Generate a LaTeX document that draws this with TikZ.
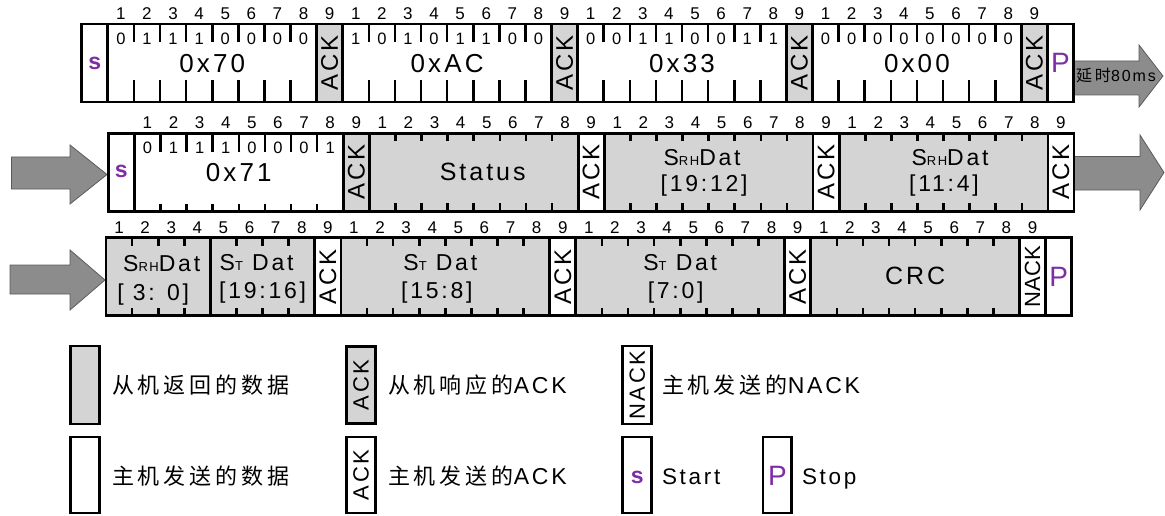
\documentclass[tikz,border=0pt]{standalone}
\usepackage{fontspec}
\setmainfont{Liberation Sans}
\newfontfamily\sps[LetterSpace=12]{Liberation Sans}
\newfontfamily\cjks[LetterSpace=18]{Noto Sans CJK SC}
\definecolor{cellgray}{RGB}{212,212,212}
\definecolor{arrowfill}{RGB}{140,140,140}
\definecolor{arrowline}{RGB}{90,90,90}
\definecolor{sigpurple}{RGB}{125,45,165}
\newcommand\SRHtxt{S{\fontsize{13}{14}\selectfont RH}Dat}
\newcommand\STtxt{S{\fontsize{13}{14}\selectfont T} Dat}
\newcommand\tickset[4]{%
  \foreach \k in {1,...,#2}{%
    \draw[tickline] ([xshift=\k*26.1pt]#1.north west) -- ++(0pt,-#3pt);
    \draw[tickline] ([xshift=\k*26.1pt]#1.south west) -- ++(0pt,#4pt);}}
\newcommand\bitvals[3]{%
  \foreach \v [count=\k] in {#3}
    \node[bitval] (#1v\k) at ([xshift={(\k-0.5)*26.1pt},yshift=-#2pt]#1.north west) {\v};}
\begin{document}
\begin{tikzpicture}[x=1pt,y=-1pt,
  cell/.style={draw=black, line width=2.8pt, minimum height=78pt, inner sep=0pt, outer sep=0pt, anchor=north west},
  gcell/.style={cell, fill=cellgray},
  wcell/.style={cell, fill=white},
  unit/.style={minimum width=26.1pt},
  byte/.style={minimum width=208.8pt},
  nib/.style={minimum width=104.4pt},
  tickline/.style={line width=2.6pt},
  txt/.style={inner sep=0pt, outer sep=0pt, anchor=base},
  bitnum/.style={txt, font=\fontsize{17}{20}\selectfont},
  bitval/.style={txt, font=\fontsize{16.5}{19}\selectfont},
  hexlbl/.style={txt, font=\sps\fontsize{26}{30}\selectfont},
  datlbl/.style={txt, font=\sps\fontsize{23}{27}\selectfont},
  biglbl/.style={txt, font=\sps\fontsize{25}{29}\selectfont},
  acklbl/.style={inner sep=0pt, rotate=90, font=\sps\fontsize{24}{26}\selectfont},
  nacklbl/.style={inner sep=0pt, rotate=90, font=\fontsize{22}{26}\selectfont},
  slbl/.style={txt, font=\bfseries\fontsize{23}{26}\selectfont, text=sigpurple},
  plbl/.style={txt, font=\fontsize{28}{30}\selectfont, text=sigpurple},
  legtxt/.style={inner sep=0pt, outer sep=0pt, anchor=base west},
  blockarrow/.style={fill=arrowfill, draw=arrowline, line width=0.8pt, line join=miter}
]
\useasboundingbox (0,0) rectangle (1165,516);

% ---------- block arrows ----------
\path[blockarrow] (1073,61) -- (1139,61) -- (1139,45) -- (1163,76) -- (1139,107) -- (1139,95) -- (1073,95) -- cycle;
\path[blockarrow] (1074,156.5) -- (1140,156.5) -- (1140,135) -- (1164,172.5) -- (1140,210) -- (1140,190) -- (1074,190) -- cycle;
\path[blockarrow] (11.5,157) -- (70,157) -- (70,145) -- (107,174.5) -- (70,204) -- (70,189) -- (11.5,189) -- cycle;
\path[blockarrow] (10,265) -- (70,265) -- (70,250) -- (105,280) -- (70,310) -- (70,294) -- (10,294) -- cycle;
\node[txt, font=\fontsize{16}{18}\selectfont] (delay) at (1116,82) {{\cjks 延时}{\sps 80ms}};

% ---------- row 1 ----------
\node[wcell, unit] (s1) at (81.7,24) {};
\node[wcell, byte] (b1) at (s1.north east) {};
\node[gcell, unit] (a1) at (b1.north east) {};
\node[wcell, byte] (b2) at (a1.north east) {};
\node[gcell, unit] (a2) at (b2.north east) {};
\node[wcell, byte] (b3) at (a2.north east) {};
\node[gcell, unit] (a3) at (b3.north east) {};
\node[wcell, byte] (b4) at (a3.north east) {};
\node[gcell, unit] (a4) at (b4.north east) {};
\node[wcell, unit] (p1) at (a4.north east) {};
\tickset{b1}{7}{18}{22}
\tickset{b2}{7}{18}{22}
\tickset{b3}{7}{18}{22}
\tickset{b4}{7}{18}{22}
\bitvals{b1}{20.5}{0,1,1,1,0,0,0,0}
\bitvals{b2}{20.5}{1,0,1,0,1,1,0,0}
\bitvals{b3}{20.5}{0,0,1,1,0,0,1,1}
\bitvals{b4}{20.5}{0,0,0,0,0,0,0,0}
\node[slbl] (s1t) at ([yshift=-6.5pt]s1.center) {s};
\node[hexlbl] (b1t) at ([yshift=-48.5pt]b1.north) {0x70};
\node[hexlbl] (b2t) at ([yshift=-48.5pt]b2.north) {0xAC};
\node[hexlbl] (b3t) at ([yshift=-48.5pt]b3.north) {0x33};
\node[hexlbl] (b4t) at ([yshift=-48.5pt]b4.north) {0x00};
\node[acklbl] (a1t) at (a1.center) {ACK};
\node[acklbl] (a2t) at (a2.center) {ACK};
\node[acklbl] (a3t) at (a3.center) {ACK};
\node[acklbl] (a4t) at (a4.center) {ACK};
\node[plbl] (p1t) at ([yshift=-9.5pt]p1.center) {P};
\foreach \k in {1,...,36}{\pgfmathtruncatemacro\lab{mod(\k-1,9)+1}%
  \node[bitnum] (ra\k) at ([xshift={(\k+0.5)*26.1pt},yshift=4.5pt]s1.north west) {\lab};}

% ---------- row 2 ----------
\node[wcell, unit] (s2) at (108.3,133.3) {};
\node[wcell, byte] (c1) at (s2.north east) {};
\node[gcell, unit] (d1) at (c1.north east) {};
\node[gcell, byte] (c2) at (d1.north east) {};
\node[wcell, unit] (d2) at (c2.north east) {};
\node[gcell, byte] (c3) at (d2.north east) {};
\node[wcell, unit] (d3) at (c3.north east) {};
\node[gcell, byte] (c4) at (d3.north east) {};
\node[wcell, unit] (d4) at (c4.north east) {};
\tickset{c1}{7}{18.5}{7}
\tickset{c2}{7}{8}{8}
\tickset{c3}{7}{8}{8}
\tickset{c4}{7}{8}{8}
\bitvals{c1}{20.5}{0,1,1,1,0,0,0,1}
\node[slbl] (s2t) at ([yshift=-5pt]s2.center) {s};
\node[hexlbl] (c1t) at ([yshift=-48.5pt]c1.north) {0x71};
\node[biglbl] (c2t) at ([xshift=9pt,yshift=-46.7pt]c2.north) {Status};
\node[datlbl] (c3t) at ([xshift=-6.5pt,yshift=-32pt]c3.north) {\SRHtxt};
\node[datlbl] (c3u) at ([xshift=-4.5pt,yshift=-58.7pt]c3.north) {[19:12]};
\node[datlbl] (c4t) at ([xshift=6.5pt,yshift=-32pt]c4.north) {\SRHtxt};
\node[datlbl] (c4u) at ([xshift=0.5pt,yshift=-58.7pt]c4.north) {[11:4]};
\node[acklbl] (d1t) at (d1.center) {ACK};
\node[acklbl] (d2t) at (d2.center) {ACK};
\node[acklbl] (d3t) at (d3.center) {ACK};
\node[acklbl] (d4t) at (d4.center) {ACK};
\foreach \k in {1,...,36}{\pgfmathtruncatemacro\lab{mod(\k-1,9)+1}%
  \node[bitnum] (rb\k) at ([xshift={(\k+0.5)*26.1pt},yshift=4.5pt]s2.north west) {\lab};}

% ---------- row 3 ----------
\node[gcell, nib] (e1) at (106,237.7) {};
\node[gcell, nib] (e2) at (e1.north east) {};
\node[wcell, unit] (f1) at (e2.north east) {};
\node[gcell, byte] (e3) at (f1.north east) {};
\node[wcell, unit] (f2) at (e3.north east) {};
\node[gcell, byte] (e4) at (f2.north east) {};
\node[wcell, unit] (f3) at (e4.north east) {};
\node[gcell, byte] (e5) at (f3.north east) {};
\node[wcell, unit] (f4) at (e5.north east) {};
\node[wcell, unit] (p3) at (f4.north east) {};
\tickset{e1}{3}{8}{8}
\tickset{e2}{3}{8}{8}
\tickset{e3}{7}{8}{8}
\tickset{e4}{7}{8}{8}
\tickset{e5}{7}{8}{8}
\node[datlbl] (e1t) at ([xshift=3.5pt,yshift=-34pt]e1.north) {\SRHtxt};
\node[datlbl] (e1u) at ([xshift=-5pt,yshift=-62.3pt]e1.north) {[ 3: 0]};
\node[datlbl] (e2t) at ([xshift=-6pt,yshift=-32.5pt]e2.north) {\STtxt};
\node[datlbl] (e2u) at ([xshift=0pt,yshift=-61pt]e2.north) {[19:16]};
\node[datlbl] (e3t) at ([xshift=-5pt,yshift=-32.5pt]e3.north) {\STtxt};
\node[datlbl] (e3u) at ([xshift=-8.5pt,yshift=-61pt]e3.north) {[15:8]};
\node[datlbl] (e4t) at ([xshift=0pt,yshift=-32.5pt]e4.north) {\STtxt};
\node[datlbl] (e4u) at ([xshift=-4.5pt,yshift=-61pt]e4.north) {[7:0]};
\node[biglbl] (e5t) at ([yshift=-46.6pt]e5.north) {CRC};
\node[acklbl] (f1t) at (f1.center) {ACK};
\node[acklbl] (f2t) at (f2.center) {ACK};
\node[acklbl] (f3t) at (f3.center) {ACK};
\node[nacklbl] (f4t) at (f4.center) {NACK};
\node[plbl] (p3t) at ([yshift=-9.5pt]p3.center) {P};
\foreach \k in {0,...,35}{\pgfmathtruncatemacro\lab{mod(\k,9)+1}%
  \node[bitnum] (rc\k) at ([xshift={(\k+0.5)*26.1pt},yshift=4pt]e1.north west) {\lab};}

% ---------- legend ----------
\node[gcell, minimum width=28.5pt] (lg1) at (70.7,346) {};
\node[wcell, minimum width=28.5pt, minimum height=76pt] (lg2) at (70.7,437) {};
\node[gcell, minimum width=28.5pt, minimum height=77pt] (lg3) at (346.7,346.5) {};
\node[wcell, minimum width=28.5pt, minimum height=76pt] (lg4) at (346.7,437) {};
\node[wcell, minimum width=29pt] (lg5) at (622.7,346) {};
\node[wcell, minimum width=29pt, minimum height=76pt] (lg6) at (622.7,437) {};
\node[wcell, minimum width=28.7pt, minimum height=76pt] (lg7) at (763,437) {};
\node[acklbl, font=\sps\fontsize{22}{26}\selectfont] (lg3t) at (lg3.center) {ACK};
\node[acklbl, font=\sps\fontsize{22}{26}\selectfont] (lg4t) at (lg4.center) {ACK};
\node[acklbl, font=\sps\fontsize{22}{26}\selectfont] (lg5t) at (lg5.center) {NACK};
\node[slbl] (lg6t) at ([yshift=-8pt]lg6.center) {s};
\node[plbl] (lg7t) at ([yshift=-10pt]lg7.center) {P};
\node[legtxt, font=\fontsize{22}{26}\selectfont] (lt1) at (112,393.5) {\cjks 从机返回的数据};
\node[legtxt, font=\fontsize{22}{26}\selectfont] (lt2) at (112,484) {\cjks 主机发送的数据};
\node[legtxt, font=\fontsize{22}{26}\selectfont] (lt3) at (388,393.5) {{\cjks 从机响应的}{\sps\fontsize{23}{26}\selectfont ACK}};
\node[legtxt, font=\fontsize{22}{26}\selectfont] (lt4) at (388,484) {{\cjks 主机发送的}{\sps\fontsize{23}{26}\selectfont ACK}};
\node[legtxt, font=\fontsize{22}{26}\selectfont] (lt5) at (662,393.5) {{\cjks 主机发送的}{\sps\fontsize{23}{26}\selectfont NACK}};
\node[legtxt, font=\sps\fontsize{22.5}{26}\selectfont] (lt6) at (662,484) {Start};
\node[legtxt, font=\sps\fontsize{22.5}{26}\selectfont] (lt7) at (802,484) {Stop};
\end{tikzpicture}
\end{document}
